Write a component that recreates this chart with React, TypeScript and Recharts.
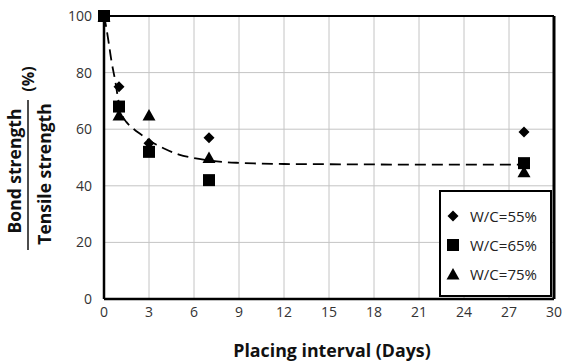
import { ScatterChart, Scatter, XAxis, YAxis, CartesianGrid, ReferenceLine } from 'recharts'

const FONT = '"Open Sans", "Noto Sans", sans-serif'

const DAYS = [0, 1, 3, 7, 28]
const WC55 = [100, 75, 55, 57, 59]
const WC65 = [100, 68, 52, 42, 48]
const WC75 = [100, 65, 65, 50, 45]

// dashed trend curve
const FIT_DAYS = [0, 0.15, 0.3, 0.5, 0.75, 1, 1.25, 1.5, 2, 2.5, 3, 3.5, 4, 5, 6, 7, 8, 9, 10, 12, 16, 20, 28]
const FIT_VALUES = [100, 96, 91, 84, 77, 69, 64.5, 62.5, 60, 58, 56, 54.5, 53.2, 51, 49.8, 49, 48.4, 48.1, 47.9, 47.7, 47.6, 47.5, 47.5]

const X_TICKS = [0, 3, 6, 9, 12, 15, 18, 21, 24, 27, 30]
const Y_TICKS = [0, 20, 40, 60, 80, 100]

const toPoints = (ys: number[], xs: number[] = DAYS) => xs.map((x, i) => ({ x, y: ys[i] }))

const Diamond = ({ cx, cy }: any) => (
  <polygon points={`${cx},${cy - 5.5} ${cx + 5.5},${cy} ${cx},${cy + 5.5} ${cx - 5.5},${cy}`} fill="#000" />
)
const Square = ({ cx, cy }: any) => <rect x={cx - 6} y={cy - 6} width={12} height={12} fill="#000" />
const Triangle = ({ cx, cy }: any) => (
  <polygon points={`${cx},${cy - 6} ${cx + 6.5},${cy + 5.5} ${cx - 6.5},${cy + 5.5}`} fill="#000" />
)
const NoDot = () => <g />

const legendRows = [
  { label: 'W/C=55%', Shape: Diamond },
  { label: 'W/C=65%', Shape: Square },
  { label: 'W/C=75%', Shape: Triangle },
]

export default function App() {
  return (
    <div style={{ position: 'absolute', left: 0, top: 0, width: 562, height: 361, background: '#fff', fontFamily: FONT }}>
      <ScatterChart width={562} height={361} margin={{ top: 16, right: 8, bottom: 32, left: 44 }}>
        <CartesianGrid stroke="#c4c4c4" strokeWidth={1} />
        <XAxis
          type="number"
          dataKey="x"
          domain={[0, 30]}
          ticks={X_TICKS}
          height={30}
          tickLine={false}
          axisLine={{ stroke: '#000', strokeWidth: 2.5 }}
          tick={{ fill: '#333', fontSize: 14, fontFamily: FONT }}
        />
        <YAxis
          type="number"
          dataKey="y"
          domain={[0, 100]}
          ticks={Y_TICKS}
          width={60}
          tickLine={false}
          tickMargin={6}
          axisLine={{ stroke: '#000', strokeWidth: 2.5 }}
          tick={{ fill: '#333', fontSize: 14, fontFamily: FONT }}
        />
        <ReferenceLine y={100} stroke="#000" strokeWidth={2} />
        <ReferenceLine x={30} stroke="#000" strokeWidth={3} />
        <Scatter
          data={toPoints(FIT_VALUES, FIT_DAYS)}
          line={{ stroke: '#000', strokeWidth: 1.8, strokeDasharray: '11 6' }}
          lineJointType="monotoneX"
          shape={NoDot}
          isAnimationActive={false}
        />
        <Scatter data={toPoints(WC55)} shape={Diamond} isAnimationActive={false} />
        <Scatter data={toPoints(WC65)} shape={Square} isAnimationActive={false} />
        <Scatter data={toPoints(WC75)} shape={Triangle} isAnimationActive={false} />
      </ScatterChart>

      {/* legend box */}
      <div
        style={{
          position: 'absolute',
          left: 439,
          top: 190,
          width: 109,
          height: 103,
          border: '2px solid #000',
          background: '#fff',
        }}
      >
        {legendRows.map((r, i) => (
          <div key={r.label} style={{ position: 'absolute', left: 4, top: 14 + i * 29, height: 20, display: 'flex', alignItems: 'center' }}>
            <svg width={16} height={16}>
              <r.Shape cx={8} cy={8} />
            </svg>
            <span style={{ marginLeft: 9, fontSize: 15, color: '#222' }}>{r.label}</span>
          </div>
        ))}
      </div>

      {/* axis titles */}
      <svg width={562} height={361} style={{ position: 'absolute', left: 0, top: 0, pointerEvents: 'none' }}>
        <text x={332} y={357} textAnchor="middle" fontSize={17.8} fontWeight="bold" fontFamily={FONT} fill="#111">
          Placing interval (Days)
        </text>
        <text x={21} y={171} transform="rotate(-90, 21, 171)" textAnchor="middle" fontSize={17.5} fontWeight="bold" fontFamily={FONT} fill="#111">
          Bond strength
        </text>
        <line x1={28} y1={100} x2={28} y2={250} stroke="#111" strokeWidth={1.5} />
        <text x={51} y={174} transform="rotate(-90, 51, 174)" textAnchor="middle" fontSize={17.5} fontWeight="bold" fontFamily={FONT} fill="#111">
          Tensile strength
        </text>
        <text x={34} y={79} transform="rotate(-90, 34, 79)" textAnchor="middle" fontSize={16} fontWeight="bold" fontFamily={FONT} fill="#111">
          (%)
        </text>
      </svg>
    </div>
  )
}
